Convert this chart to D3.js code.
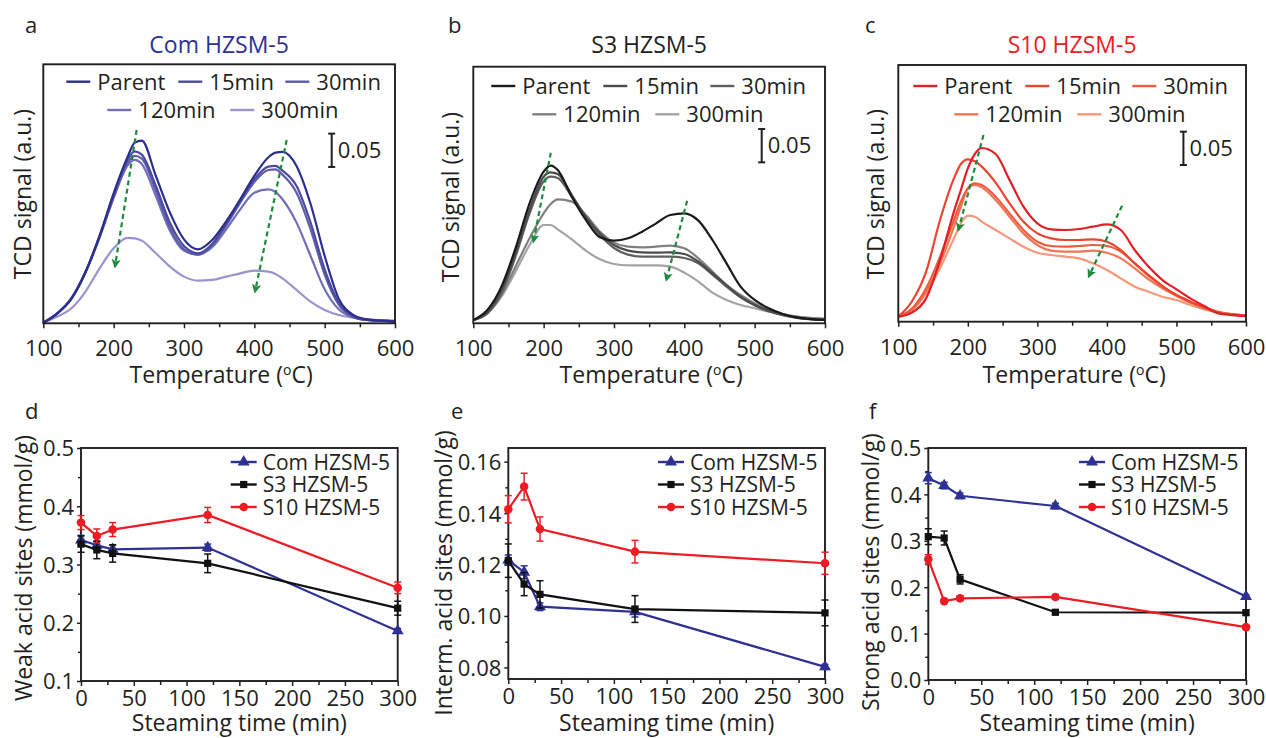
<!DOCTYPE html>
<html>
<head>
<meta charset="utf-8">
<script src="https://cdn.jsdelivr.net/npm/d3@7"></script>
<style>
  body { margin: 0; background: #fff; }
  svg { display: block; }
</style>
</head>
<body>
<svg id="fig" width="1266" height="738"></svg>
<script>
// ---------------- NH3-TPD profiles (TCD signal, a.u.) ----------------
const tempsA = [100,120,140,160,180,200,220,230,240,260,280,300,320,340,360,380,400,420,430,440,460,480,500,520,540,560,600];
const comParent = [0,.014,.036,.076,.13,.194,.249,.27,.273,.22,.165,.125,.11,.124,.152,.185,.22,.248,.255,.256,.235,.178,.1,.036,.012,.005,.002];
const com15 = [0,.014,.036,.076,.13,.192,.245,.257,.252,.205,.15,.115,.104,.118,.148,.183,.215,.234,.235,.228,.205,.15,.08,.03,.01,.004,.002];
const com30 = [0,.014,.036,.075,.128,.188,.24,.25,.246,.198,.143,.11,.102,.116,.146,.18,.211,.229,.23,.222,.195,.14,.072,.027,.009,.004,.002];
const com120 = [0,.014,.037,.076,.128,.187,.236,.244,.238,.19,.138,.108,.102,.113,.14,.17,.195,.2,.196,.185,.15,.1,.05,.02,.008,.004,.002];
const com300 = [0,.009,.0215,.0465,.0815,.1115,.127,.1265,.123,.104,.084,.069,.063,.064,.069,.074,.078,.0765,.073,.0665,.049,.0315,.019,.0115,.0075,.005,.003];

const tempsB = [100,120,140,160,180,200,210,220,240,260,280,300,320,340,360,380,400,420,440,460,480,500,520,540,560,600];
const s3Parent = [0,.015,.05,.1075,.175,.2225,.2315,.225,.185,.15,.124,.119,.1225,.1325,.145,.1575,.16,.149,.12,.085,.05,.03,.0175,.009,.004,0];
const s3_15 = [0,.012,.045,.1,.165,.215,.2215,.219,.1875,.155,.13,.1125,.104,.1015,.101,.1015,.099,.0875,.07,.0525,.035,.0225,.014,.0075,.0035,0];
const s3_30 = [0,.01,.04,.095,.16,.208,.215,.213,.185,.153,.127,.108,.098,.095,.095,.095,.093,.085,.068,.05,.034,.022,.013,.007,.003,0];
const s3_120 = [0,.01,.0375,.08,.1225,.16,.174,.181,.1775,.1575,.1325,.116,.11,.109,.11,.1115,.1075,.0925,.0725,.0525,.0375,.025,.016,.009,.005,.0015];
const s3_300 = [0,.01,.035,.0725,.1125,.1425,.1425,.136,.121,.104,.091,.084,.082,.082,.082,.08,.071,.0575,.041,.03,.0225,.0175,.0125,.0085,.005,.0015];

const tempsC = [100,120,140,160,180,190,200,210,220,240,260,280,300,320,340,360,380,400,420,440,460,480,500,520,540,560,580,600];
const s10Parent = [0,.0065,.0275,.085,.1575,.19,.2225,.244,.253,.244,.205,.165,.14,.131,.13,.1315,.135,.1385,.13,.1,.075,.055,.041,.0275,.016,.005,.0025,.001];
const s10_15 = [0,.0235,.0675,.145,.2075,.229,.236,.233,.225,.201,.17,.1425,.125,.1175,.115,.115,.116,.1125,.1,.08,.0625,.046,.0325,.0225,.014,.006,.003,.002];
const s10_30 = [0,.0125,.0425,.09,.145,.1725,.1925,.2,.1975,.18,.155,.13,.1125,.106,.105,.106,.1075,.106,.0975,.08,.061,.045,.0325,.0225,.014,.0075,.004,.002];
const s10_120 = [0,.011,.0375,.08,.135,.165,.1925,.1975,.194,.175,.15,.125,.1075,.099,.0975,.0975,.099,.096,.0875,.0725,.056,.0425,.031,.021,.0125,.0065,.0035,.002];
const s10_300 = [0,.01,.035,.0725,.1175,.14,.1515,.15,.1425,.13,.1175,.105,.096,.0925,.09,.0875,.08,.07,.0575,.045,.0375,.03,.025,.0175,.011,.006,.0035,.002];

const steamLabels = ["Parent", "15min", "30min", "120min", "300min"];
const tempTicks = [100, 200, 300, 400, 500, 600];
const tempMinorTicks = [150, 250, 350, 450, 550];

// trend arrows: [T start, signal start, T end, signal end]
const arrowsCom = [[232.7, 0.289, 201.9, 0.084], [446, 0.274, 401, 0.0465]];
const arrowsS3 = [[210.2, 0.251, 185.5, 0.1175], [404, 0.179, 374.5, 0.06]];
const arrowsS10 = [[222.5, 0.2725, 186.5, 0.13], [421.8, 0.1665, 373.8, 0.06]];

// ---------------- acid site amounts vs steaming time ----------------
const steamTimes = [0, 15, 30, 120, 300];
const sampleNames = ["Com HZSM-5", "S3 HZSM-5", "S10 HZSM-5"];

const weakCom = [0.342, 0.333, 0.326, 0.329, 0.186];
const weakComErr = [0.008, 0.007, 0.007, 0.006, 0.004];
const weakS3 = [0.335, 0.325, 0.319, 0.302, 0.225];
const weakS3Err = [0.014, 0.015, 0.015, 0.016, 0.012];
const weakS10 = [0.372, 0.349, 0.360, 0.385, 0.260];
const weakS10Err = [0.012, 0.012, 0.012, 0.013, 0.010];

const intCom = [0.1217, 0.1170, 0.1036, 0.1016, 0.0802];
const intComErr = [0.002, 0.0025, 0.0015, 0.002, 0.001];
const intS3 = [0.1215, 0.1124, 0.1084, 0.1027, 0.1012];
const intS3Err = [0.0065, 0.0045, 0.0053, 0.0052, 0.005];
const intS10 = [0.1415, 0.1503, 0.1338, 0.1250, 0.1205];
const intS10Err = [0.0053, 0.0052, 0.0047, 0.0044, 0.0043];

const strongCom = [0.435, 0.419, 0.397, 0.375, 0.180];
const strongComErr = [0.012, 0.007, 0.006, 0.006, 0.004];
const strongS3 = [0.309, 0.306, 0.217, 0.146, 0.145];
const strongS3Err = [0.017, 0.015, 0.010, 0.005, 0.005];
const strongS10 = [0.260, 0.170, 0.176, 0.179, 0.114];
const strongS10Err = [0.010, 0.005, 0.005, 0.005, 0.004];

const timeTicks = [0, 50, 100, 150, 200, 250, 300];
const timeMinorTicks = [25, 75, 125, 175, 225, 275];
const weakTicks = [0.1, 0.2, 0.3, 0.4, 0.5];
const weakMinor = [0.15, 0.25, 0.35, 0.45];
const intTicks = [0.08, 0.10, 0.12, 0.14, 0.16];
const intMinor = [0.09, 0.11, 0.13, 0.15];
const strongTicks = [0.0, 0.1, 0.2, 0.3, 0.4, 0.5];
const strongMinor = [0.05, 0.15, 0.25, 0.35, 0.45];

// ---------------- drawing ----------------
const FONT = "'Open Sans', 'Noto Sans', sans-serif";
const INK = "#231f20";
const svg = d3.select("#fig").attr("font-family", FONT);
const GREEN = "#1f8a3e";

svg.append("defs").append("marker")
  .attr("id", "arrowHead").attr("viewBox", "0 0 10 10")
  .attr("refX", 8).attr("refY", 5)
  .attr("markerWidth", 4.2).attr("markerHeight", 4.2)
  .attr("markerUnits", "strokeWidth")
  .attr("orient", "auto")
  .append("path").attr("d", "M0,0 L10,5 L0,10 L2.5,5 Z").attr("fill", GREEN);

function frame(box) {
  svg.append("rect")
    .attr("x", box.l).attr("y", box.t)
    .attr("width", box.r - box.l).attr("height", box.b - box.t)
    .attr("fill", "none").attr("stroke", INK).attr("stroke-width", 1.9);
}

function xAxis(x, yPos, majors, minors, fmt, labelY) {
  const g = svg.append("g").attr("transform", `translate(0,${yPos})`);
  g.call(d3.axisBottom(x).tickValues(majors).tickSize(5).tickSizeOuter(0).tickFormat(fmt));
  g.call(gg => gg.select(".domain").remove());
  g.attr("font-family", FONT).attr("font-size", 22);
  g.selectAll(".tick line").attr("stroke", INK).attr("stroke-width", 1.5);
  g.selectAll(".tick text").attr("fill", INK).attr("y", labelY).attr("dy", null);
  const m = svg.append("g").attr("transform", `translate(0,${yPos})`);
  m.call(d3.axisBottom(x).tickValues(minors).tickSize(4).tickSizeOuter(0).tickFormat(""));
  m.call(gg => gg.select(".domain").remove());
  m.selectAll(".tick line").attr("stroke", INK).attr("stroke-width", 1.5);
}

function yAxis(y, xPos, majors, minors, fmt) {
  const g = svg.append("g").attr("transform", `translate(${xPos},0)`);
  g.call(d3.axisLeft(y).tickValues(majors).tickSize(4).tickSizeOuter(0).tickFormat(fmt).tickPadding(3));
  g.call(gg => gg.select(".domain").remove());
  g.attr("font-family", FONT).attr("font-size", 22);
  g.selectAll(".tick line").attr("stroke", INK).attr("stroke-width", 1.5);
  g.selectAll(".tick text").attr("fill", INK).attr("dy", "0.36em");
  const m = svg.append("g").attr("transform", `translate(${xPos},0)`);
  m.call(d3.axisLeft(y).tickValues(minors).tickSize(3).tickSizeOuter(0).tickFormat(""));
  m.call(gg => gg.select(".domain").remove());
  m.selectAll(".tick line").attr("stroke", INK).attr("stroke-width", 1.5);
}

function text(x, y, str, opts = {}) {
  return svg.append("text").attr("x", x).attr("y", y)
    .attr("font-size", opts.size || 22)
    .attr("fill", opts.color || INK)
    .attr("text-anchor", opts.anchor || "start")
    .text(str);
}

function rotatedTitle(x, cy, str) {
  svg.append("text")
    .attr("transform", `translate(${x},${cy}) rotate(-90)`)
    .attr("text-anchor", "middle").attr("font-size", 23).attr("fill", INK)
    .text(str);
}

// ---- top row: TPD curves ----
const tpdPanels = [
  { letter: "a", title: "Com HZSM-5", titleColor: "#2e3192", temps: tempsA,
    series: [comParent, com15, com30, com120, com300],
    shades: ["#2b2e8c", "#4a4a9f", "#5e5cab", "#716fb8", "#9894ce"],
    box: { l: 43.3, r: 395, t: 64.3, b: 323.3 }, yDom: [-0.001, 0.3875],
    arrows: arrowsCom, legendShift: 4, legendRow: 81.7, barBase: 0.2335,
    letterX: 25, yTitleX: 31, yTitleCY: 194 },
  { letter: "b", title: "S3 HZSM-5", titleColor: INK, temps: tempsB,
    series: [s3Parent, s3_15, s3_30, s3_120, s3_300],
    shades: ["#1a1a1a", "#4b4b4b", "#5f5f5f", "#808080", "#a4a4a4"],
    box: { l: 473.3, r: 825, t: 66.7, b: 323.3 }, yDom: [-0.005, 0.38],
    arrows: arrowsS3, legendShift: -1, legendRow: 86, barBase: 0.2365,
    letterX: 448, yTitleX: 459, yTitleCY: 197 },
  { letter: "c", title: "S10 HZSM-5", titleColor: "#ed1c24", temps: tempsC,
    series: [s10Parent, s10_15, s10_30, s10_120, s10_300],
    shades: ["#e31e24", "#ea4630", "#ed5d40", "#f07654", "#f49a7a"],
    box: { l: 898.3, r: 1246, t: 65, b: 321.7 }, yDom: [-0.0075, 0.3775],
    arrows: arrowsS10, legendShift: -4, legendRow: 86, barBase: 0.2275,
    letterX: 865, yTitleX: 884, yTitleCY: 194 }
];

const legendSlots = [[19, 0], [131, 0], [238, 0], [60, 1], [183, 1]];

tpdPanels.forEach(p => {
  const x = d3.scaleLinear().domain([100, 600]).range([p.box.l, p.box.r]);
  const y = d3.scaleLinear().domain(p.yDom).range([p.box.b, p.box.t]);
  const line = d3.line().curve(d3.curveMonotoneX)
    .x((d, i) => x(p.temps[i])).y(d => y(d));

  // lightest (longest steamed) first so the parent stays on top
  for (let k = p.series.length - 1; k >= 0; k--) {
    svg.append("path").datum(p.series[k])
      .attr("d", line).attr("fill", "none")
      .attr("stroke", p.shades[k]).attr("stroke-width", 2.2)
      .attr("stroke-linejoin", "round");
  }

  p.arrows.forEach(a => {
    svg.append("line")
      .attr("x1", x(a[0])).attr("y1", y(a[1]))
      .attr("x2", x(a[2])).attr("y2", y(a[3]))
      .attr("stroke", GREEN).attr("stroke-width", 2.2)
      .attr("stroke-dasharray", "5,3.5")
      .attr("marker-end", "url(#arrowHead)");
  });

  frame(p.box);
  xAxis(x, p.box.b, tempTicks, tempMinorTicks, d3.format("d"), 33);

  // 0.05 scale bar
  const bx = x(510);
  const by0 = y(p.barBase), by1 = y(p.barBase + 0.05);
  const bar = svg.append("g").attr("stroke", INK).attr("stroke-width", 2);
  bar.append("line").attr("x1", bx).attr("x2", bx).attr("y1", by0).attr("y2", by1);
  bar.append("line").attr("x1", bx - 3.5).attr("x2", bx + 3.5).attr("y1", by0).attr("y2", by0);
  bar.append("line").attr("x1", bx - 3.5).attr("x2", bx + 3.5).attr("y1", by1).attr("y2", by1);
  text(bx + 6, by0 - 9, "0.05");

  // legend
  steamLabels.forEach((lab, k) => {
    const [dx, row] = legendSlots[k];
    const lx = p.box.l + dx + p.legendShift;
    const ly = p.legendRow + row * 28.3;
    svg.append("line").attr("x1", lx).attr("x2", lx + 24).attr("y1", ly).attr("y2", ly)
      .attr("stroke", p.shades[k]).attr("stroke-width", 2.4);
    text(lx + 31, ly + 8, lab);
  });

  text((p.box.l + p.box.r) / 2, 53.3, p.title, { anchor: "middle", color: p.titleColor, size: 23 });
  text(p.letterX, 33, p.letter);
  rotatedTitle(p.yTitleX, p.yTitleCY, "TCD signal (a.u.)");

  const t = svg.append("text").attr("x", (p.box.l + p.box.r) / 2 + 2).attr("y", 383)
    .attr("text-anchor", "middle").attr("font-size", 23).attr("fill", INK);
  t.append("tspan").text("Temperature (");
  t.append("tspan").attr("font-size", 14).attr("dy", -8).text("o");
  t.append("tspan").attr("dy", 8).text("C)");
});

// ---- bottom row: acid sites ----
const sampleColors = ["#2e3192", "#111111", "#ed1c24"];
const sampleSymbols = [d3.symbolTriangle, d3.symbolSquare, d3.symbolCircle];
const symbolSizes = [62, 52, 58];

const sitePanels = [
  { letter: "d", yTitle: "Weak acid sites (mmol/g)", box: { l: 81, r: 397.7, t: 448, b: 681 },
    yDom: [0.1, 0.5], ticks: weakTicks, minor: weakMinor, fmt: d3.format(".1f"),
    vals: [weakCom, weakS3, weakS10], errs: [weakComErr, weakS3Err, weakS10Err],
    letterX: 25, yTitleX: 32, yTitleCY: 568 },
  { letter: "e", yTitle: "Interm. acid sites (mmol/g)", box: { l: 508.3, r: 825, t: 448, b: 679 },
    yDom: [0.0755, 0.1653], ticks: intTicks, minor: intMinor, fmt: d3.format(".2f"),
    vals: [intCom, intS3, intS10], errs: [intComErr, intS3Err, intS10Err],
    letterX: 451, yTitleX: 451.5, yTitleCY: 573 },
  { letter: "f", yTitle: "Strong acid sites (mmol/g)", box: { l: 928.3, r: 1246, t: 448, b: 680 },
    yDom: [0, 0.5], ticks: strongTicks, minor: strongMinor, fmt: d3.format(".1f"),
    vals: [strongCom, strongS3, strongS10], errs: [strongComErr, strongS3Err, strongS10Err],
    letterX: 869, yTitleX: 879, yTitleCY: 572 }
];

sitePanels.forEach(p => {
  const x = d3.scaleLinear().domain([0, 300]).range([p.box.l, p.box.r]);
  const y = d3.scaleLinear().domain(p.yDom).range([p.box.b, p.box.t]);
  const line = d3.line().x((d, i) => x(steamTimes[i])).y(d => y(d));

  frame(p.box);
  xAxis(x, p.box.b, timeTicks, timeMinorTicks, d3.format("d"), 25);
  yAxis(y, p.box.l, p.ticks, p.minor, p.fmt);

  p.vals.forEach((vals, s) => {
    const c = sampleColors[s];
    svg.append("path").datum(vals).attr("d", line)
      .attr("fill", "none").attr("stroke", c).attr("stroke-width", 2.2);
    const eg = svg.append("g").attr("stroke", c).attr("stroke-width", 1.5);
    vals.forEach((v, i) => {
      const e = p.errs[s][i];
      const cx = x(steamTimes[i]);
      eg.append("line").attr("x1", cx).attr("x2", cx).attr("y1", y(v - e)).attr("y2", y(v + e));
      eg.append("line").attr("x1", cx - 3.5).attr("x2", cx + 3.5).attr("y1", y(v - e)).attr("y2", y(v - e));
      eg.append("line").attr("x1", cx - 3.5).attr("x2", cx + 3.5).attr("y1", y(v + e)).attr("y2", y(v + e));
    });
    svg.append("g").selectAll("path").data(vals).join("path")
      .attr("transform", (d, i) => `translate(${x(steamTimes[i])},${y(d)})`)
      .attr("d", d3.symbol().type(sampleSymbols[s]).size(symbolSizes[s]))
      .attr("fill", c);
  });

  // legend
  sampleNames.forEach((name, s) => {
    const lx = p.box.r - 167, ly = p.box.t + 14 + s * 22.5;
    svg.append("line").attr("x1", lx).attr("x2", lx + 26).attr("y1", ly).attr("y2", ly)
      .attr("stroke", sampleColors[s]).attr("stroke-width", 2.4);
    svg.append("path").attr("transform", `translate(${lx + 13},${ly})`)
      .attr("d", d3.symbol().type(sampleSymbols[s]).size(symbolSizes[s]))
      .attr("fill", sampleColors[s]);
    text(lx + 32, ly + 7.5, name, { size: 21 });
  });

  text((p.box.l + p.box.r) / 2, 731, "Steaming time (min)", { anchor: "middle", size: 23 });
  text(p.letterX, 419, p.letter);
  rotatedTitle(p.yTitleX, p.yTitleCY, p.yTitle);
});
</script>
</body>
</html>
